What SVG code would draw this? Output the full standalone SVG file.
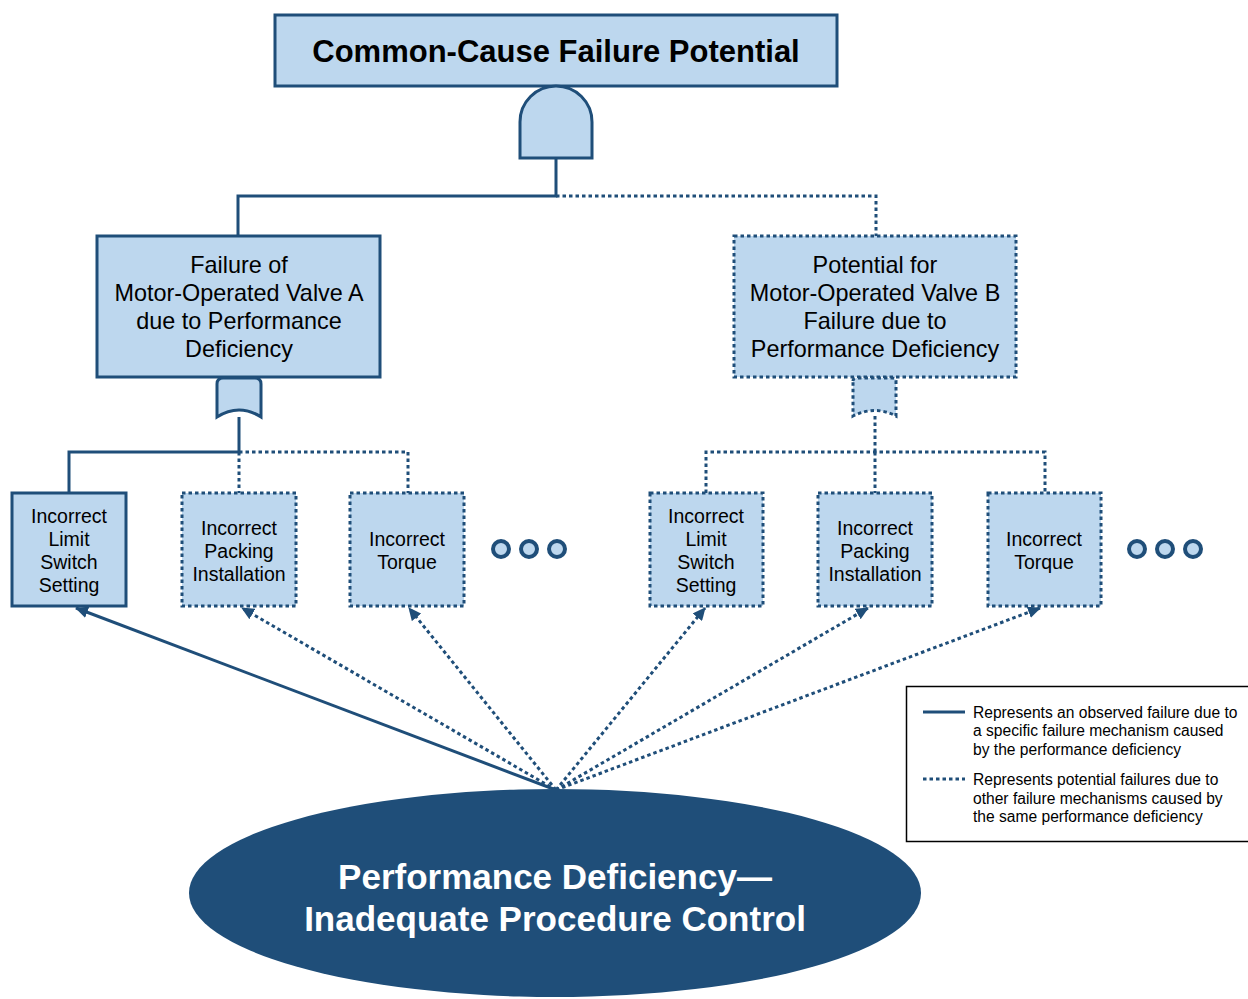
<svg xmlns="http://www.w3.org/2000/svg" width="1248" height="999" viewBox="0 0 1248 999">
<style>
.box{fill:#bdd7ee;stroke:#1f4e79;stroke-width:3}
.dot{stroke-dasharray:3.5 3}
.ln{fill:none;stroke:#1f4e79;stroke-width:3}
.t{font-family:"Liberation Sans",Arial,sans-serif;fill:#000;text-anchor:middle}
.m{font-size:23.4px}
.s{font-size:19.5px}
.lg{font-family:"Liberation Sans",Arial,sans-serif;font-size:15.6px;fill:#000}
.circ{fill:#bdd7ee;stroke:#1f4e79;stroke-width:4}
</style>
<defs>
<marker id="ah" markerUnits="userSpaceOnUse" markerWidth="14" markerHeight="12" refX="12" refY="6" orient="auto">
<path d="M0,0 L13,6 L0,12 Z" fill="#1f4e79"/>
</marker>
</defs>
<rect width="1248" height="999" fill="#fff"/>

<g id="connectors">
<path class="ln" d="M556,158 V196 H238 V236"/>
<path class="ln dot" d="M556,196 H876 V236"/>
<path class="ln" d="M239,417 V452 H69 V493"/>
<path class="ln dot" d="M239,452 H408 V493"/>
<path class="ln dot" d="M239,452 V493"/>
<path class="ln dot" d="M875,416 V452"/>
<path class="ln dot" d="M706,493 V452 H1045 V493"/>
<path class="ln dot" d="M875,452 V493"/>
<line class="ln" x1="556" y1="790" x2="76" y2="608" marker-end="url(#ah)"/>
<line class="ln dot" x1="556" y1="790" x2="242" y2="608" marker-end="url(#ah)"/>
<line class="ln dot" x1="556" y1="790" x2="409" y2="608" marker-end="url(#ah)"/>
<line class="ln dot" x1="556" y1="790" x2="705" y2="608" marker-end="url(#ah)"/>
<line class="ln dot" x1="556" y1="790" x2="868" y2="608" marker-end="url(#ah)"/>
<line class="ln dot" x1="556" y1="790" x2="1040" y2="608" marker-end="url(#ah)"/>
</g>

<g id="top">
<rect class="box" x="275" y="15" width="562" height="71"/>
<text class="t" x="556" y="62" font-size="31" font-weight="bold">Common-Cause Failure Potential</text>
</g>

<g id="and-gate">
<path class="box" d="M520,158 V122 A36,36 0 0 1 592,122 V158 Z"/>
</g>

<g id="valveA">
<rect class="box" x="97" y="236" width="283" height="141"/>
<text class="t m" x="239" y="273">Failure of</text>
<text class="t m" x="239" y="301">Motor-Operated Valve A</text>
<text class="t m" x="239" y="329">due to Performance</text>
<text class="t m" x="239" y="357">Deficiency</text>
</g>

<g id="valveB">
<rect class="box dot" x="734" y="236" width="282" height="141"/>
<text class="t m" x="875" y="273">Potential for</text>
<text class="t m" x="875" y="301">Motor-Operated Valve B</text>
<text class="t m" x="875" y="329">Failure due to</text>
<text class="t m" x="875" y="357">Performance Deficiency</text>
</g>

<g id="or-gateA">
<path class="box" d="M217,384 Q217,378 223,378 H255 Q261,378 261,384 V417 Q239,403 217,417 Z"/>
</g>
<g id="or-gateB">
<path class="box dot" d="M853,381 Q853,378 857,378 H892 Q896,378 896,381 V416 Q875,405 853,416 Z"/>
</g>

<g id="a1">
<rect class="box" x="12" y="493" width="114" height="113"/>
<text class="t s" x="69" y="523">Incorrect</text>
<text class="t s" x="69" y="546">Limit</text>
<text class="t s" x="69" y="569">Switch</text>
<text class="t s" x="69" y="592">Setting</text>
</g>
<g id="a2">
<rect class="box dot" x="182" y="493" width="114" height="113"/>
<text class="t s" x="239" y="535">Incorrect</text>
<text class="t s" x="239" y="558">Packing</text>
<text class="t s" x="239" y="581">Installation</text>
</g>
<g id="a3">
<rect class="box dot" x="350" y="493" width="114" height="113"/>
<text class="t s" x="407" y="546">Incorrect</text>
<text class="t s" x="407" y="569">Torque</text>
</g>
<g id="a-more">
<circle class="circ" cx="501" cy="549" r="8"/>
<circle class="circ" cx="529" cy="549" r="8"/>
<circle class="circ" cx="557" cy="549" r="8"/>
</g>

<g id="b1">
<rect class="box dot" x="650" y="493" width="113" height="113"/>
<text class="t s" x="706" y="523">Incorrect</text>
<text class="t s" x="706" y="546">Limit</text>
<text class="t s" x="706" y="569">Switch</text>
<text class="t s" x="706" y="592">Setting</text>
</g>
<g id="b2">
<rect class="box dot" x="818" y="493" width="114" height="113"/>
<text class="t s" x="875" y="535">Incorrect</text>
<text class="t s" x="875" y="558">Packing</text>
<text class="t s" x="875" y="581">Installation</text>
</g>
<g id="b3">
<rect class="box dot" x="988" y="493" width="113" height="113"/>
<text class="t s" x="1044" y="546">Incorrect</text>
<text class="t s" x="1044" y="569">Torque</text>
</g>
<g id="b-more">
<circle class="circ" cx="1137" cy="549" r="8"/>
<circle class="circ" cx="1165" cy="549" r="8"/>
<circle class="circ" cx="1193" cy="549" r="8"/>
</g>

<g id="deficiency">
<ellipse cx="555" cy="893" rx="366" ry="104" fill="#1f4e79"/>
<text class="t" x="555" y="889" font-size="35" font-weight="bold" style="fill:#fff">Performance Deficiency—</text>
<text class="t" x="555" y="931" font-size="35" font-weight="bold" style="fill:#fff">Inadequate Procedure Control</text>
</g>

<g id="legend">
<rect x="906.5" y="686.5" width="345" height="155" fill="#fff" stroke="#000" stroke-width="1.5"/>
<line x1="923" y1="712" x2="965" y2="712" stroke="#1f4e79" stroke-width="3"/>
<text class="lg" x="973" y="718">Represents an observed failure due to</text>
<text class="lg" x="973" y="736">a specific failure mechanism caused</text>
<text class="lg" x="973" y="755">by the performance deficiency</text>
<line x1="923" y1="779" x2="965" y2="779" stroke="#1f4e79" stroke-width="3" stroke-dasharray="3.5 3"/>
<text class="lg" x="973" y="785">Represents potential failures due to</text>
<text class="lg" x="973" y="804">other failure mechanisms caused by</text>
<text class="lg" x="973" y="822">the same performance deficiency</text>
</g>
</svg>
